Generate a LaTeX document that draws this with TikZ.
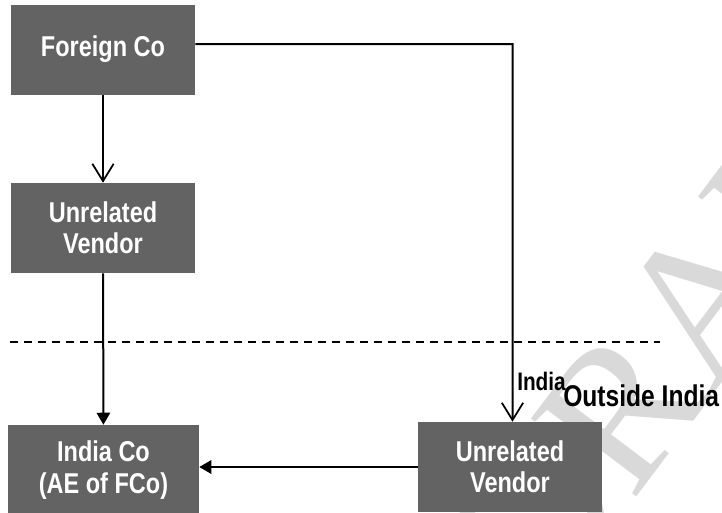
\documentclass[tikz,border=0pt]{standalone}
\usepackage{fontspec}
\setmainfont[FakeStretch=0.82]{Liberation Sans}
\newfontfamily\wmfont{Liberation Serif}
\usetikzlibrary{arrows.meta}
\definecolor{boxgray}{HTML}{636363}
\definecolor{wmgray}{HTML}{D9D9D9}
\tikzset{
  entity/.style={fill=boxgray, draw=none, text=white, align=center,
    minimum width=138pt, minimum height=67.5pt, inner sep=0pt,
    font=\bfseries\fontsize{21.5}{23.5}\selectfont},
  flow/.style={line width=1.5pt},
  barb/.style={flow, -{Straight Barb[length=13pt,width=16pt,line width=1.3pt]}},
  solidhead/.style={flow, -{Triangle[length=9pt,width=10pt]}},
  border/.style={line width=1.1pt, dash pattern=on 6pt off 4.5pt},
  tag/.style={inner sep=0pt, anchor=base west, font=\bfseries\fontsize{22.5}{24}\selectfont}
}
\begin{document}
\begin{tikzpicture}[x=0.75pt, y=-0.75pt]
  \clip (0,0) rectangle (722,512);
  \fill[white] (0,0) rectangle (722,512);

  % watermark
  \node[rotate=53, text=wmgray, inner sep=0pt, font=\wmfont\fontsize{150}{150}\selectfont]
    (wm) at (690,316) {DRAFT};

  % entities
  \node[entity] (fco) at (103,49.5) {Foreign Co};
  \node[entity] (uvl) at (103,228) {Unrelated\\Vendor};
  \node[entity, minimum width=143.25pt] (ico) at (103.5,470) {India Co\\(AE of FCo)};
  \node[entity] (uvr) at (510,467) {Unrelated\\Vendor};

  % boundary between India and outside India
  \coordinate (bl) at (10,342);
  \coordinate (br) at (660,342);
  \draw[border] (bl) -- (br);
  \node[tag, font=\bfseries\fontsize{19}{21}\selectfont] (lin) at (517,390) {India};
  \node[tag] (lout) at (563,406) {Outside India};

  % flows
  \draw[barb] (fco) -- (uvl);
  \draw[solidhead] (uvl) -- (ico);
  \coordinate (turn) at (512.5,44);
  \draw[barb] ([yshift=4.1pt]fco.east) -- (turn) -- (turn |- uvr.north);
  \draw[solidhead] (uvr.west) -- (ico.east |- uvr.west);
\end{tikzpicture}
\end{document}
